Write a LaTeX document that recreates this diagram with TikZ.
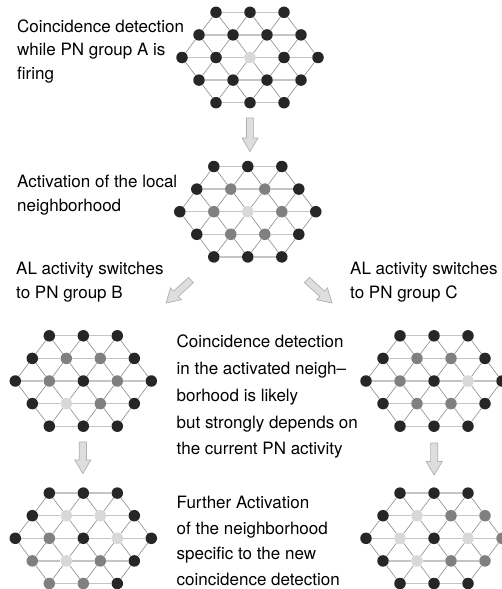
\documentclass[tikz,border=0pt]{standalone}
\usepackage{fontspec}
\setmainfont{TeX Gyre Heros}
\usetikzlibrary{calc,backgrounds}
\definecolor{nb}{HTML}{262626}
\definecolor{ng}{HTML}{808080}
\definecolor{nl}{HTML}{D8D8D8}
\definecolor{eh}{HTML}{C4C4C4}
\definecolor{ed}{HTML}{8C8C8C}
\definecolor{af}{HTML}{DEDEDE}
\definecolor{ao}{HTML}{B0B0B0}
\tikzset{
  dot/.style={circle, inner sep=0pt, minimum size=11.5pt},
  hedge/.style={draw=eh, line width=1.3pt},
  dedge/.style={draw=ed, line width=0.6pt},
  lbl/.style={anchor=base west, inner sep=0pt, font=\fontsize{17}{20}\selectfont},
  blockarrow/.style={fill=af, draw=ao, line width=0.7pt, line join=miter},
}
% #1 name, #2 cx, #3 cy, #4..#8 colours of rows 0..4
\newcommand\hexnet[8]{%
  \foreach \r/\cols in {0/{#4},1/{#5},2/{#6},3/{#7},4/{#8}}{%
    \foreach \c [count=\k from 0] in \cols {%
      \pgfmathsetmacro\xo{#2+(\k-(4-abs(\r-2))/2)*34}%
      \pgfmathsetmacro\yo{#3+(\r-2)*22.6}%
      \node[dot, fill=\c] (#1-\r-\k) at (\xo,\yo) {};
    }%
  }%
  \begin{pgfonlayer}{background}
    \foreach \r/\m in {0/1,1/2,2/3,3/2,4/1}{%
      \foreach \k in {0,...,\m}{%
        \pgfmathtruncatemacro\kk{\k+1}%
        \draw[hedge] (#1-\r-\k) -- (#1-\r-\kk);
      }%
    }%
    \foreach \r/\m in {0/2,1/3}{%
      \pgfmathtruncatemacro\rr{\r+1}%
      \foreach \k in {0,...,\m}{%
        \pgfmathtruncatemacro\kk{\k+1}%
        \draw[dedge] (#1-\r-\k) -- (#1-\rr-\k);
        \draw[dedge] (#1-\r-\k) -- (#1-\rr-\kk);
      }%
    }%
    \foreach \r/\m in {2/3,3/2}{%
      \pgfmathtruncatemacro\rr{\r+1}%
      \foreach \k in {0,...,\m}{%
        \pgfmathtruncatemacro\kk{\k+1}%
        \draw[dedge] (#1-\rr-\k) -- (#1-\r-\k);
        \draw[dedge] (#1-\rr-\k) -- (#1-\r-\kk);
      }%
    }%
  \end{pgfonlayer}%
}
% #1 name, start (#2,#3), tip (#4,#5)
\newcommand\blockarr[5]{%
  \coordinate (#1-s) at (#2,#3);
  \coordinate (#1-e) at (#4,#5);
  \coordinate (#1-h) at ($(#1-e)!13.5pt!(#1-s)$);
  \draw[blockarrow] ($(#1-s)!3.6pt!90:(#1-e)$) -- ($(#1-h)!3.6pt!90:(#1-e)$)
    -- ($(#1-h)!8pt!90:(#1-e)$) -- (#1-e) -- ($(#1-h)!8pt!-90:(#1-e)$)
    -- ($(#1-h)!3.6pt!-90:(#1-e)$) -- ($(#1-s)!3.6pt!-90:(#1-e)$) -- cycle;
}
\begin{document}
\begin{tikzpicture}[x=1pt,y=-1pt]
\begin{pgfonlayer}{background}
\fill[white] (0,0) rectangle (502,589);
\end{pgfonlayer}
\useasboundingbox (0,0) rectangle (502,589);

\hexnet{h1}{250}{57.5}{nb,nb,nb}{nb,nb,nb,nb}{nb,nb,nl,nb,nb}{nb,nb,nb,nb}{nb,nb,nb}
\hexnet{h2}{247.8}{211.7}{nb,nb,nb}{nb,ng,ng,nb}{nb,ng,nl,ng,nb}{nb,ng,ng,nb}{nb,nb,nb}
\hexnet{h3}{83.3}{381}{nb,nb,nb}{nb,ng,ng,nb}{nb,ng,nb,ng,nb}{nb,nl,ng,nb}{nb,nb,nb}
\hexnet{h4}{434}{381}{nb,nb,nb}{nb,ng,ng,nb}{nb,ng,nb,nl,nb}{nb,ng,ng,nb}{nb,nb,nb}
\hexnet{h5}{83.3}{538.3}{nb,nb,nb}{nb,nl,nl,nb}{nb,ng,nb,nl,nb}{ng,nl,ng,nb}{ng,ng,nb}
\hexnet{h6}{434}{538.3}{nb,nb,nb}{nb,nl,ng,ng}{nb,nl,nb,nl,ng}{nb,nl,ng,ng}{nb,nb,nb}

\blockarr{a1}{250}{118}{250}{151.5}
\blockarr{a2}{191}{280}{166}{303}
\blockarr{a3}{307}{280}{332}{303}
\blockarr{a4}{82.8}{442}{82.8}{473.5}
\blockarr{a5}{434.2}{443}{434.2}{475}

\node[lbl] (t1a) at (17,32) {Coincidence detection};
\node[lbl] (t1b) at (17,55.5) {while PN group A is};
\node[lbl] (t1c) at (17,79) {firing};

\node[lbl] (t2a) at (17,187) {Activation of the local};
\node[lbl] (t2b) at (17,211) {neighborhood};

\node[lbl] (t3a) at (16,274) {AL activity switches};
\node[lbl] (t3b) at (16,298) {to PN group B};

\node[lbl] (t4a) at (350,274) {AL activity switches};
\node[lbl] (t4b) at (350,298) {to PN group C};

\node[lbl] (t5a) at (176.5,347) {Coincidence detection};
\node[lbl] (t5b) at (176.5,374) {in the activated neigh--};
\node[lbl] (t5c) at (176.5,401) {borhood is likely};
\node[lbl] (t5d) at (176.5,428) {but strongly depends on};
\node[lbl] (t5e) at (176.5,454.5) {the current PN activity};

\node[lbl] (t6a) at (176.5,508) {Further Activation};
\node[lbl] (t6b) at (176.5,534) {of the neighborhood};
\node[lbl] (t6c) at (176.5,559.5) {specific to the new};
\node[lbl] (t6d) at (176.5,585) {coincidence detection};
\end{tikzpicture}
\end{document}
